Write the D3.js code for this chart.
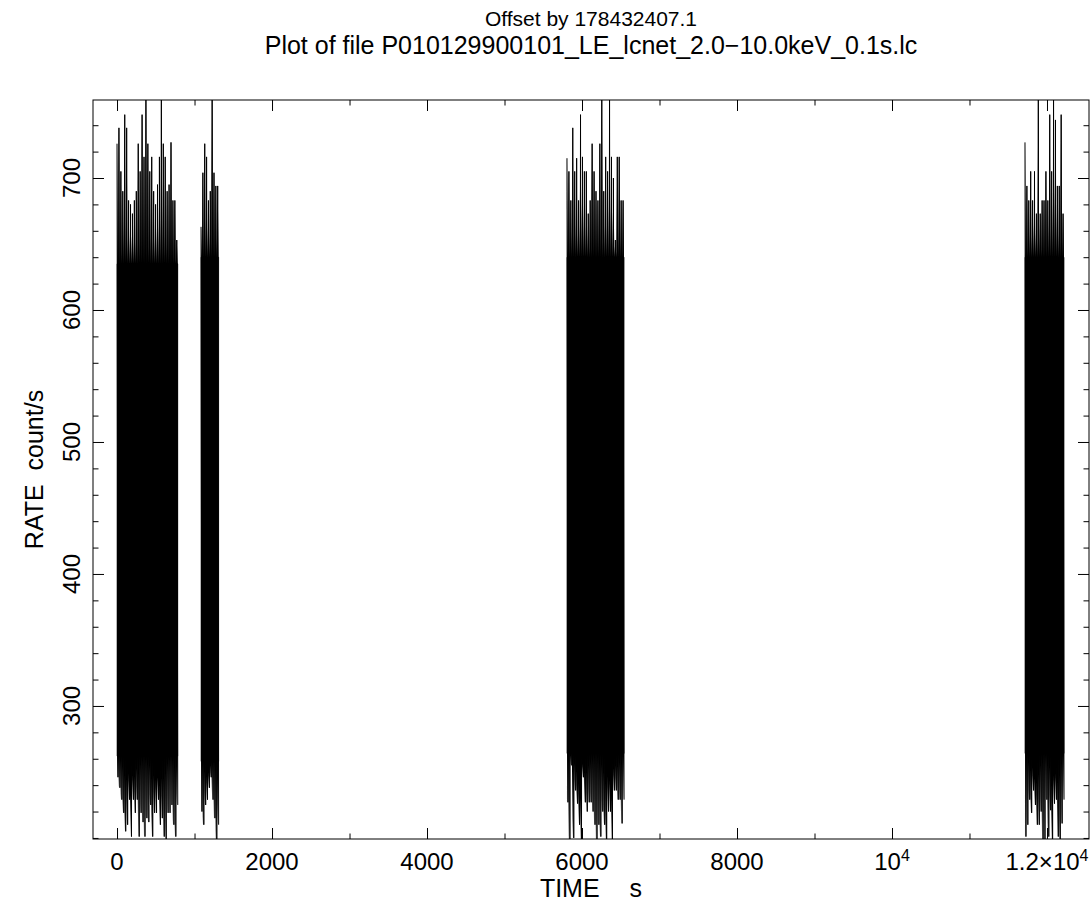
<!DOCTYPE html>
<html><head><meta charset="utf-8">
<script src="https://cdn.jsdelivr.net/npm/d3@7"></script>
<style>
html,body{margin:0;padding:0;background:#fff;}
text{font-family:"Liberation Sans","DejaVu Sans",Arial,sans-serif;fill:#000;}
</style></head>
<body>
<svg id="chart" width="1092" height="902"></svg>
<script>
// ---- data ----
const titleLines = ["Offset by 178432407.1", "Plot of file P010129900101_LE_lcnet_2.0\u221210.0keV_0.1s.lc"];
const xLabel = "TIME  s";
const yLabel = "RATE  count/s";
const xDomain = [-310, 12542];
const yDomain = [199.2, 759.1];
const xMajorTicks = [0, 2000, 4000, 6000, 8000, 10000, 12000];
const xTickLabels = ["0", "2000", "4000", "6000", "8000", "10^4", "1.2\u00d710^4"];
const yMajorTicks = [300, 400, 500, 600, 700];
const yTickLabels = ["300", "400", "500", "600", "700"];

// good-time segments (s since offset)
const segStart = [0, 1084, 5806, 11716];
const segEnd   = [796, 1323, 6555, 12232];
// rate level below/above which every column is solidly covered (count/s)
const coreHigh = [635, 640, 640, 640];
const coreLow  = [262, 258, 264, 264];
// per-bin extreme rates (count/s) within each segment
const seg1High = [726,738,705,690,748,738,683,680,673,683,690,726,705,748,716,765,726,705,716,690,680,695,716,765,726,716,690,695,727,683,683,653];
const seg1Low  = [246,238,229,219,205,210,229,201,229,219,229,201,219,212,201,215,212,225,201,219,219,229,210,215,201,199,219,219,225,210,201,225];
const seg2High = [663,704,726,716,683,690,765,704,694,694];
const seg2Low  = [220,210,225,229,238,246,229,215,195,210];
const seg3High = [715,705,683,738,705,715,683,748,716,705,705,673,683,726,705,690,683,726,765,690,716,705,765,716,700,653,716,716,683,683];
const seg3Low  = [227,195,255,200,236,226,210,195,246,227,220,227,227,220,210,195,210,201,220,210,195,220,220,195,236,236,229,229,211,229];
const seg4High = [727,694,683,705,683,705,673,765,673,683,683,705,683,748,705,765,744,694,694,748,673];
const seg4Low  = [201,210,229,219,236,225,210,210,220,195,195,229,201,221,195,226,229,201,195,211,229];
const segHigh = [seg1High, seg2High, seg3High, seg4High];
const segLow  = [seg1Low, seg2Low, seg3Low, seg4Low];

// ---- layout ----
const L = 93, R = 1089, T = 100, B = 839;
const svg = d3.select("#chart");
const x = d3.scaleLinear().domain(xDomain).range([L, R]);
const y = d3.scaleLinear().domain(yDomain).range([B, T]);

svg.append("defs").append("clipPath").attr("id","plotclip")
  .append("rect").attr("x", L).attr("y", T).attr("width", R-L).attr("height", B-T);

// ---- data ----
const g = svg.append("g").attr("clip-path","url(#plotclip)");
const area = d3.area().x(d => x(d[0])).y0(d => y(d[2])).y1(d => y(d[1]));
const line = d3.line().x(d => x(d[0])).y(d => y(d[1]));
segStart.forEach((s, k) => {
  const hi = segHigh[k], lo = segLow[k];
  const n = hi.length, step = (segEnd[k] - s) / n;
  const tEnd = s + (n - 0.5) * step;
  // solid core of the densely sampled trace
  g.append("path").attr("d", area([[s, coreHigh[k], coreLow[k]], [tEnd, coreHigh[k], coreLow[k]]]))
    .attr("fill","#000").attr("stroke","#000").attr("stroke-width",0.6);
  // spiky fringe: peaks at each bin, notches down to the core level
  const body = [];
  for (let i = 0; i < n; i++) {
    body.push([s + i*step, hi[i], lo[i]]);
    body.push([s + (i+0.5)*step, coreHigh[k], coreLow[k]]);
  }
  g.append("path").attr("d", area(body)).attr("fill","#000").attr("stroke","none");
  // the rate trace swinging between extremes
  const pts = [];
  for (let i = 0; i < n; i++) {
    pts.push([s + i*step, hi[i]]);
    pts.push([s + (i+0.5)*step, lo[i]]);
  }
  g.append("path").attr("d", line(pts)).attr("fill","none")
    .attr("stroke","#000").attr("stroke-width",1);
});

// ---- axes (ticks on all four sides, inward) ----
const xMinor = d3.range(0, 12001, 1000).filter(v => !xMajorTicks.includes(v));
const yMinor = d3.range(200, 760, 20).filter(v => !yMajorTicks.includes(v));
const MAJ = 11, MIN = 5.5;
function mkAxis(axisFn, scale, ticks, len, transform) {
  const a = axisFn(scale).tickValues(ticks).tickSize(len).tickFormat("");
  const gg = svg.append("g").attr("transform", transform).call(a);
  gg.select(".domain").remove();
  gg.selectAll("line").attr("stroke","#000");
}
mkAxis(d3.axisTop, x, xMajorTicks, MAJ, `translate(0,${B})`);
mkAxis(d3.axisTop, x, xMinor, MIN, `translate(0,${B})`);
mkAxis(d3.axisBottom, x, xMajorTicks, MAJ, `translate(0,${T})`);
mkAxis(d3.axisBottom, x, xMinor, MIN, `translate(0,${T})`);
mkAxis(d3.axisRight, y, yMajorTicks, MAJ, `translate(${L},0)`);
mkAxis(d3.axisRight, y, yMinor, MIN, `translate(${L},0)`);
mkAxis(d3.axisLeft, y, yMajorTicks, MAJ, `translate(${R},0)`);
mkAxis(d3.axisLeft, y, yMinor, MIN, `translate(${R},0)`);

svg.append("rect").attr("x", L).attr("y", T).attr("width", R-L).attr("height", B-T)
  .attr("fill","none").attr("stroke","#000").attr("stroke-width",1);

// x tick labels
xMajorTicks.forEach((v, i) => {
  const lab = xTickLabels[i];
  const t = svg.append("text").attr("x", x(v)).attr("y", 870)
    .attr("text-anchor","middle").attr("font-size", 24);
  if (lab.includes("^")) {
    const [base, exp] = lab.split("^");
    t.append("tspan").text(base);
    t.append("tspan").attr("dy", -9).attr("font-size", 16).text(exp);
  } else t.text(lab);
});
// y tick labels (rotated)
yMajorTicks.forEach((v, i) => {
  svg.append("text").attr("transform", `translate(80,${y(v)}) rotate(-90)`)
    .attr("text-anchor","middle").attr("font-size", 24).text(yTickLabels[i]);
});

// axis titles
const xParts = xLabel.split("  ");
const xt = svg.append("text").attr("x", (L+R)/2).attr("y", 897).attr("text-anchor","middle")
  .attr("font-size", 25);
xt.append("tspan").text(xParts[0]);
xt.append("tspan").attr("dx", 30).text(xParts[1]);
svg.append("text").attr("transform", `translate(43,${(T+B)/2}) rotate(-90)`)
  .attr("text-anchor","middle").attr("font-size", 25)
  .style("white-space","pre").text(yLabel);

// title
svg.append("text").attr("x", (L+R)/2).attr("y", 26).attr("text-anchor","middle")
  .attr("font-size", 21).text(titleLines[0]);
svg.append("text").attr("x", (L+R)/2).attr("y", 54).attr("text-anchor","middle")
  .attr("font-size", 25).text(titleLines[1]);
</script>
</body></html>
